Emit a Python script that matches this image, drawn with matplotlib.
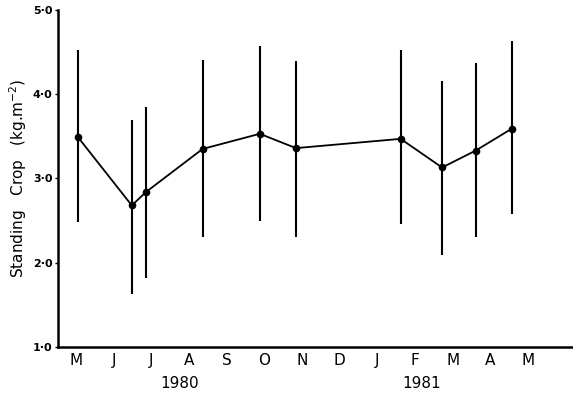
import matplotlib
matplotlib.use("Agg")
import matplotlib.pyplot as plt
import matplotlib.transforms as mtransforms

# Data (x in months since May 1980 label)
month_labels = ["M", "J", "J", "A", "S", "O", "N", "D", "J", "F", "M", "A", "M"]
x_months = [0.05, 1.48, 1.86, 3.36, 4.88, 5.84, 8.62, 9.72, 10.61, 11.57]
crop = [3.49, 2.68, 2.84, 3.35, 3.53, 3.36, 3.47, 3.13, 3.33, 3.59]
upper = [4.52, 3.69, 3.85, 4.40, 4.57, 4.39, 4.52, 4.16, 4.37, 4.63]
lower = [2.48, 1.63, 1.82, 2.31, 2.49, 2.31, 2.46, 2.09, 2.30, 2.58]
y_ticks = [1.0, 2.0, 3.0, 4.0, 5.0]
y_tick_labels = ["1·0", "2·0", "3·0", "4·0", "5·0"]
years = ["1980", "1981"]
year_pos = [2.76, 9.18]

fig = plt.figure(figsize=(5.73, 3.97), dpi=100)
ax = fig.add_axes([0.1012, 0.126, 0.897, 0.849])

for xv, lo, hi in zip(x_months, lower, upper):
    ax.plot([xv, xv], [lo, hi], color="black", lw=1.5, solid_capstyle="butt")
ax.plot(x_months, crop, color="black", lw=1.3, marker="o", ms=4.5)

ax.set_xlim(-0.48, 13.17)
ax.set_ylim(1.0, 5.0)
ax.spines["top"].set_visible(False)
ax.spines["right"].set_visible(False)
ax.spines["left"].set_linewidth(1.8)
ax.spines["bottom"].set_linewidth(1.8)

ax.set_xticks(range(len(month_labels)))
ax.set_xticklabels(month_labels, fontsize=11)
ax.tick_params(axis="x", length=0, pad=4)
ax.set_yticks(y_ticks)
ax.set_yticklabels(y_tick_labels, fontsize=8, fontweight="bold")
ax.tick_params(axis="y", length=2, width=1, pad=2)

trans = mtransforms.blended_transform_factory(ax.transData, fig.transFigure)
for yr, xp in zip(years, year_pos):
    ax.text(xp, 1 - 383 / 397, yr, transform=trans, ha="center", va="center", fontsize=11)

fig.text(18 / 573, 1 - 178 / 397, r"Standing   Crop   (kg.m$^{-2}$)", rotation=90,
         ha="center", va="center", fontsize=11)

fig.savefig("out.png", dpi=100)
